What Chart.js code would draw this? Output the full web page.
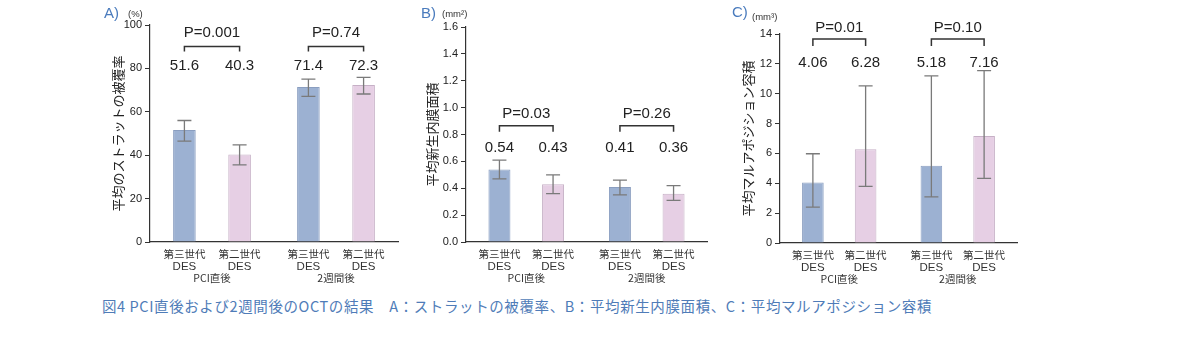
<!DOCTYPE html>
<html>
<head>
<meta charset="utf-8">
<script src="https://cdn.jsdelivr.net/npm/chart.js@4/dist/chart.umd.min.js"></script>
<style>
  body { margin: 0; background: #fff; }
  #wrap { position: relative; width: 1200px; height: 340px; background: #fff; overflow: hidden; }
  canvas { position: absolute; top: 0; }
  .tag { position: absolute; font-family: "Liberation Sans", Arial, sans-serif; color: #4a7bbd; font-size: 15px; line-height: 1; }
  .unit { position: absolute; font-family: "Liberation Sans", "Noto Sans CJK JP", sans-serif; color: #333; font-size: 9.5px; line-height: 1; }
  #caption { position: absolute; left: 102px; top: 299px; font-family: "Noto Sans CJK JP", sans-serif; font-size: 14.5px; letter-spacing: 0.6px; color: #4f7cb8; white-space: nowrap; line-height: 1; }
</style>
</head>
<body>
<div id="wrap">
  <canvas id="chartA" width="330" height="290" style="left:80px"></canvas>
  <canvas id="chartB" width="310" height="290" style="left:410px"></canvas>
  <canvas id="chartC" width="310" height="290" style="left:720px"></canvas>

  <span class="tag" style="left:104px;top:5px">A)</span>
  <span class="unit" style="left:128px;top:9px">(%)</span>
  <span class="tag" style="left:421px;top:5px">B)</span>
  <span class="unit" style="left:442px;top:9px">(mm²)</span>
  <span class="tag" style="left:732px;top:4px">C)</span>
  <span class="unit" style="left:752px;top:12px">(mm³)</span>

  <div id="caption">図4 PCI直後および2週間後のOCTの結果　A：ストラットの被覆率、B：平均新生内膜面積、C：平均マルアポジション容積</div>
</div>

<script>
// categories and series
var groups = ['PCI直後', '2週間後'];
var series = [['第三世代', 'DES'], ['第二世代', 'DES']];
var seriesColors = ['#9cb1d2', '#e6cfe4'];
var seriesBorders = ['#8a9ec0', '#c6b0c6'];

// A) strut coverage (%)  [series][group]
var coverageMean = [[51.6, 71.4], [40.3, 72.3]];
var coverageLow  = [[46.5, 67.1], [35.5, 68.2]];
var coverageHigh = [[56.0, 75.1], [44.8, 75.9]];
var coverageP = ['P=0.001', 'P=0.74'];
var coverageTicks = [0, 20, 40, 60, 80, 100];

// B) neointimal area (mm2)
var areaMean = [[0.54, 0.41], [0.43, 0.36]];
var areaLow  = [[0.47, 0.35], [0.36, 0.31]];
var areaHigh = [[0.61, 0.46], [0.50, 0.42]];
var areaP = ['P=0.03', 'P=0.26'];
var areaTicks = [0, 0.2, 0.4, 0.6, 0.8, 1.0, 1.2, 1.4, 1.6];

// C) malapposition volume (mm3)
var malMean = [[4.06, 5.18], [6.28, 7.16]];
var malLow  = [[2.40, 3.09], [3.79, 4.33]];
var malHigh = [[5.98, 11.2], [10.53, 11.54]];
var malP = ['P=0.01', 'P=0.10'];
var malTicks = [0, 2, 4, 6, 8, 10, 12, 14];

var numFont = '"Liberation Sans", Arial, sans-serif';
var jpFont = '"Noto Sans CJK JP", sans-serif';

var annotatePlugin = {
  id: 'annotate',
  afterDraw: function(chart) {
    var o = chart.options.plugins.annotate;
    var ctx = chart.ctx;
    var y = chart.scales.y;
    var x = chart.scales.x;
    var metas = [chart.getDatasetMeta(0), chart.getDatasetMeta(1)];
    ctx.save();

    // error bars
    ctx.strokeStyle = '#7a7a7a';
    ctx.lineWidth = 1.3;
    metas.forEach(function(meta, s) {
      meta.data.forEach(function(bar, g) {
        var top = y.getPixelForValue(o.high[s][g]);
        var bot = y.getPixelForValue(o.low[s][g]);
        ctx.beginPath();
        ctx.moveTo(bar.x, top); ctx.lineTo(bar.x, bot);
        ctx.moveTo(bar.x - 7, top); ctx.lineTo(bar.x + 7, top);
        ctx.moveTo(bar.x - 7, bot); ctx.lineTo(bar.x + 7, bot);
        ctx.stroke();
      });
    });

    // value labels
    ctx.fillStyle = '#222';
    ctx.textAlign = 'center';
    ctx.textBaseline = 'middle';
    ctx.font = '15px ' + numFont;
    metas.forEach(function(meta, s) {
      meta.data.forEach(function(bar, g) {
        ctx.fillText(o.mean[s][g].toFixed(o.decimals), bar.x, y.getPixelForValue(o.labelY));
      });
    });

    // brackets + p values
    ctx.strokeStyle = '#333';
    ctx.lineWidth = 1.5;
    groups.forEach(function(gname, g) {
      var x0 = metas[0].data[g].x, x1 = metas[1].data[g].x;
      var by = y.getPixelForValue(o.bracketY);
      ctx.beginPath();
      ctx.moveTo(x0, by + o.drop); ctx.lineTo(x0, by); ctx.lineTo(x1, by); ctx.lineTo(x1, by + o.drop);
      ctx.stroke();
      ctx.font = '15px ' + numFont;
      ctx.fillText(o.p[g], (x0 + x1) / 2, y.getPixelForValue(o.pY));
    });

    // sub labels under each bar
    ctx.fillStyle = '#333';
    metas.forEach(function(meta, s) {
      meta.data.forEach(function(bar) {
        ctx.font = '10.5px ' + jpFont;
        ctx.fillText(series[s][0], bar.x, x.top + 12.5);
        ctx.font = '11.5px ' + numFont;
        ctx.fillText(series[s][1], bar.x, x.top + 24.5);
      });
    });
    ctx.restore();
  }
};

function makeChart(id, cfg) {
  var ticks = cfg.ticks;
  new Chart(document.getElementById(id), {
    type: 'bar',
    data: {
      labels: groups,
      datasets: series.map(function(name, s) {
        return {
          label: name.join(' '),
          data: cfg.mean[s],
          backgroundColor: seriesColors[s],
          borderColor: seriesBorders[s],
          borderWidth: 1,
          categoryPercentage: 0.89,
          barPercentage: 0.41
        };
      })
    },
    options: {
      responsive: false,
      animation: false,
      layout: { padding: { left: cfg.padLeft, right: cfg.padRight, top: cfg.top, bottom: 0 } },
      plugins: {
        legend: { display: false },
        tooltip: { enabled: false },
        annotate: cfg
      },
      scales: {
        x: {
          grid: { display: false, drawTicks: false },
          border: { display: true, color: '#333', width: 1.2 },
          ticks: { padding: 30, color: '#333', font: { family: jpFont, size: 10.5 } },
          afterFit: function(scale) { scale.height = 290 - cfg.bottom; }
        },
        y: {
          min: ticks[0],
          max: ticks[ticks.length - 1],
          grid: { display: true, drawOnChartArea: false, drawTicks: true, tickLength: 5, color: '#333', width: 1.2 },
          border: { display: true, color: '#333', width: 1.2 },
          ticks: {
            stepSize: ticks[1] - ticks[0],
            padding: 3,
            color: '#222',
            font: { family: numFont, size: 11 },
            callback: function(v) { return v.toFixed(cfg.tickDecimals); }
          },
          title: {
            display: true,
            text: cfg.title,
            color: '#222',
            font: { family: jpFont, size: 13 },
            padding: { top: 0, bottom: 0 }
          },
          afterFit: function(scale) { scale.width = cfg.axisWidth; }
        }
      }
    },
    plugins: [annotatePlugin]
  });
}

makeChart('chartA', {
  mean: coverageMean, low: coverageLow, high: coverageHigh, p: coverageP, ticks: coverageTicks,
  title: '平均のストラットの被覆率', decimals: 1, tickDecimals: 0,
  labelY: 81.0, pY: 96.5, bracketY: 90.1, drop: 5,
  padLeft: 30, axisWidth: 40, padRight: 12, top: 25, bottom: 242
});
makeChart('chartB', {
  mean: areaMean, low: areaLow, high: areaHigh, p: areaP, ticks: areaTicks,
  title: '平均新生内膜面積', decimals: 2, tickDecimals: 1,
  labelY: 0.70, pY: 0.95, bracketY: 0.865, drop: 6,
  padLeft: 14, axisWidth: 42, padRight: 13, top: 27, bottom: 242
});
makeChart('chartC', {
  mean: malMean, low: malLow, high: malHigh, p: malP, ticks: malTicks,
  title: '平均マルアポジション容積', decimals: 2, tickDecimals: 0,
  labelY: 12.1, pY: 14.4, bracketY: 13.67, drop: 7,
  padLeft: 20, axisWidth: 40, padRight: 13, top: 34, bottom: 243
});
</script>
</body>
</html>
